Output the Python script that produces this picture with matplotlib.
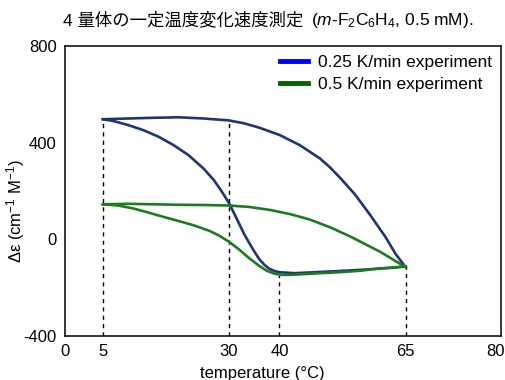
import numpy as np
import matplotlib
matplotlib.use('Agg')
import matplotlib.pyplot as plt
from matplotlib.lines import Line2D

plt.rcParams['font.family'] = ['Liberation Sans', 'Noto Sans CJK JP', 'DejaVu Sans']
plt.rcParams['mathtext.fontset'] = 'custom'
plt.rcParams['mathtext.rm'] = 'Liberation Sans'
plt.rcParams['mathtext.it'] = 'Liberation Sans:italic'
plt.rcParams['axes.unicode_minus'] = False

# --- данные ---
# 0.25 K/min: верхняя ветвь петли
t_blue_up = [5, 10, 15, 20, 25, 30, 33, 36, 40, 44, 48, 50, 52, 55, 58, 61, 63, 65]
v_blue_up = [497, 500, 503, 505, 500, 492, 480, 462, 432, 390, 335, 298, 255, 185, 100, 10, -60, -115]
# 0.25 K/min: нижняя ветвь
t_blue_dn = [5, 7, 10, 13, 16, 19, 22, 25, 27, 28.5, 30, 31, 32, 33, 34, 35, 36, 37, 38, 39, 40, 43, 47, 52, 57, 62, 65]
v_blue_dn = [497, 490, 473, 452, 425, 390, 348, 292, 245, 200, 150, 108, 65, 22, -15, -50, -82, -105, -122, -131, -136, -140, -136, -131, -125, -118, -112]
# 0.5 K/min: верхняя ветвь
t_green_up = [5, 10, 15, 20, 25, 30, 34, 38, 42, 46, 50, 54, 57, 60, 63, 65]
v_green_up = [145, 147, 145, 143, 142, 140, 134, 122, 105, 82, 50, 12, -20, -52, -90, -114]
# 0.5 K/min: нижняя ветвь
t_green_dn = [5, 8, 11, 14, 17, 20, 23, 26, 28, 30, 32, 34, 36, 37.5, 39, 40.5, 42, 44, 48, 52, 56, 60, 63, 65]
v_green_dn = [145, 140, 128, 111, 93, 76, 58, 36, 16, -10, -42, -78, -110, -130, -142, -147, -147, -145, -140, -136, -130, -120, -116, -112]

# вертикальные пунктиры
mark_t = [5, 30, 40, 65]
mark_top = [497, 492, -147, -112]

x_ticks = [5, 30, 40, 65]
x_min, x_max = -2.5, 83.9
y_ticks = [-400, 0, 400, 800]
legend_labels = ['0.25 K/min experiment', '0.5 K/min experiment']

blue = '#1f3573'
green = '#1e7a1e'

fig = plt.figure(figsize=(5.05, 3.8), dpi=100)
ax = fig.add_axes([65 / 505, 1 - 336 / 380, 436 / 505, 290 / 380])

ax.vlines(mark_t, -400, mark_top, colors='k', linestyles=(0, (3, 3)), linewidth=1.0, zorder=1)

ax.plot(t_blue_up, v_blue_up, color=blue, lw=1.9, zorder=3)
ax.plot(t_blue_dn, v_blue_dn, color=blue, lw=1.9, zorder=3)
ax.plot(t_green_up, v_green_up, color=green, lw=1.9, zorder=4)
ax.plot(t_green_dn, v_green_dn, color=green, lw=1.9, zorder=4)

ax.set_xlim(x_min, x_max)
ax.set_ylim(-400, 800)
ax.set_xticks([x_min] + x_ticks + [x_max - 1.1], ['0'] + [str(t) for t in x_ticks] + ['80'])
ax.set_yticks(y_ticks)
ax.tick_params(length=0, labelsize=12, pad=6)
for s in ax.spines.values():
    s.set_linewidth(1.1)

ax.set_xlabel('temperature (°C)', fontsize=12)
ax.xaxis.set_label_coords(0.452, -0.103)
ax.set_ylabel('Δε (cm$^{-1}$ M$^{-1}$)', fontsize=12)
ax.yaxis.set_label_coords(-0.087, 0.431)

handles = [Line2D([], [], color='#0000ff', lw=3.5), Line2D([], [], color='#006400', lw=3.5)]
ax.legend(handles, legend_labels, loc='upper right', frameon=False, fontsize=12.5,
          handlelength=1.6, handletextpad=0.6, labelspacing=0.4,
          borderaxespad=0.2, borderpad=0.3)

# заголовок из двух частей: японский текст + формула
t1 = fig.text(63 / 505, 1 - 25 / 380, '4 量体の一定温度変化速度測定', fontsize=12.5,
              va='baseline', ha='left')
fig.canvas.draw()
bb = t1.get_window_extent()
fig.text((bb.x1 + 8) / fig.bbox.width, 1 - 25 / 380,
         r'($\it{m}$-F$_2$C$_6$H$_4$, 0.5 mM).', fontsize=12.5, va='baseline', ha='left')

fig.savefig('out.png', dpi=100)
